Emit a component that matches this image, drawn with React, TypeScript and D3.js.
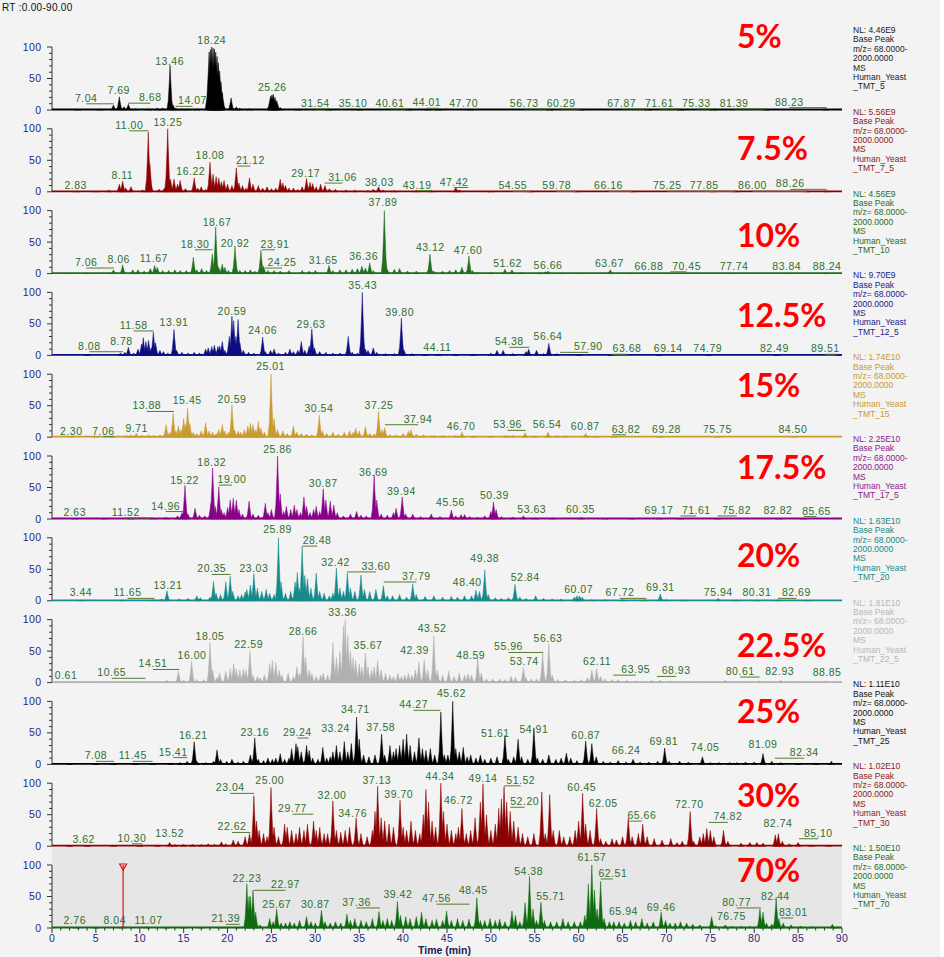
import React, { useRef, useEffect } from "react";
import { select, scaleLinear, line, range } from "d3";

type Peak = [number, number, number?];
type Label = [string, number, number];

// base peak chromatograms: [rt (min), relative abundance (%), half width (min, optional)]
const peaks5: Peak[] = [[3.0,1],[5.5,1],[7.0,8],[7.67,21],[8.2,5],[8.7,9],[9.5,2],[11.0,2],[12.0,3],[12.6,3],[13.45,71],[13.8,8],[14.1,3],[14.8,2],[15.5,2],[16.5,2],[17.9,92,0.45],[18.05,96,0.45],[18.2,100,0.45],[18.35,98,0.5],[18.5,97,0.45],[18.65,92,0.5],[18.8,85,0.45],[18.95,75,0.45],[19.1,62,0.45],[19.25,45,0.4],[19.4,28,0.4],[20.4,19],[21.0,5],[21.4,3],[22.5,2],[24.9,22,0.45],[25.05,24,0.45],[25.2,25,0.5],[25.4,20,0.45],[25.6,15,0.45],[26.0,4],[28,1],[31.5,2],[35.1,1.5],[40.6,1.5],[42.8,2],[44,1.5],[47.7,1.5],[56.7,1],[60.3,1],[67.9,1],[71.6,1],[75.3,1.5],[81.4,1],[88.2,2]];
const peaks7_5: Peak[] = [[2.8,1],[5,1],[6.5,3],[7.67,12],[8.05,17],[8.4,6],[9.0,8],[10.3,3],[10.97,95],[11.15,45],[12.2,4],[12.8,6],[13.18,100],[13.5,20],[13.9,20],[14.3,12],[14.6,18],[15.2,5],[16.2,22],[16.6,6],[17.0,8],[17.5,4],[18.0,47],[18.35,28],[18.7,24],[19.0,22],[19.3,16],[19.6,18],[20.0,12],[20.5,10],[21.0,38],[21.3,14],[21.7,10],[22.1,6],[22.5,22],[22.9,12],[23.5,10],[24.0,6],[24.5,8],[25.0,5],[25.5,6],[26.0,20],[26.3,14],[26.6,10],[27.0,6],[27.5,6],[28.0,4],[28.5,8],[29.0,21],[29.4,15],[29.7,13],[30.1,8],[30.6,12],[31.1,10],[31.6,5],[32.3,4],[33.5,3],[34.5,3],[36.0,2],[36.6,4],[37.2,8],[37.7,3],[39,2],[41.5,2],[43.2,2],[46.0,7],[46.4,3],[50,1],[54.5,1],[59.8,1],[66.2,1],[75.3,1],[77.9,1],[86,1],[88.3,1.5]];
const peaks10: Peak[] = [[2,1],[4,1],[7.0,6],[8.05,14],[9.2,6],[9.8,6],[10.5,4],[11.2,8],[11.7,13],[12.0,10],[12.6,5],[13.3,5],[14.0,6],[14.6,5],[15.3,5],[16.1,26],[16.5,6],[17.05,8],[17.6,5],[18.26,31],[18.65,74],[19.0,10],[19.4,15],[19.7,10],[20.1,5],[20.85,42],[21.4,5],[22.0,5],[22.6,6],[23.1,4],[23.8,37],[24.1,12],[24.6,5],[25.3,5],[26.0,4],[27.0,5],[28.5,5],[29.3,4],[30.0,5],[31.55,13],[32.0,5],[32.8,6],[33.5,6],[34.2,7],[34.8,8],[35.3,12],[35.7,9],[36.2,17],[36.6,5],[37.86,100],[38.2,6],[39.0,7],[39.6,8],[40.5,4],[41.5,4],[43.06,31],[43.5,4],[44.5,4],[45.3,5],[46.0,6],[46.7,10],[47.5,28],[47.9,5],[48.5,2],[50,2],[51.6,7],[52.4,6],[53.5,2],[55.5,2],[56.2,3],[56.5,4],[58,1],[60,1],[63.6,6],[66,1],[70,1],[77.7,1],[84,1],[88.2,1.5]];
const peaks12_5: Peak[] = [[4,1],[7.8,4],[8.3,5],[8.7,13],[9.3,4],[9.8,10],[10.2,18],[10.4,28],[10.7,22],[11.0,24],[11.3,12],[11.55,37],[11.8,20],[12.3,8],[12.7,6],[13.2,4],[13.9,41],[14.2,8],[14.8,5],[15.5,4],[16.2,5],[16.8,4],[17.5,10],[17.8,12],[18.2,14],[18.5,16],[18.9,14],[19.1,15],[19.4,22],[19.7,8],[20.2,30],[20.5,62],[20.7,55],[20.95,30],[21.2,57],[21.4,20],[21.8,8],[22.4,5],[23.0,4],[24.0,29],[24.3,6],[24.9,8],[25.3,10],[25.8,4],[26.6,5],[27.1,10],[27.5,6],[28.0,8],[28.4,22],[28.8,8],[29.3,15],[29.6,42],[29.9,12],[30.5,6],[31.2,5],[32.0,4],[32.8,4],[33.75,30],[34.2,5],[34.8,4],[35.35,100],[35.7,10],[36.0,8],[36.6,12],[37.0,5],[38.0,3],[39.0,3],[39.8,59],[40.1,8],[41.0,3],[42.5,2],[44.0,2],[46,2],[48,2],[50.0,4],[50.7,8],[51.4,8],[52.5,3],[54.0,6],[54.3,10],[55.2,8],[56.0,3],[56.6,19],[57.5,3],[60,1],[63.7,1],[69.1,1],[74.8,1],[82.5,1],[89.5,1]];
const peaks15: Peak[] = [[2.3,2],[5,1],[7.0,1.5],[8.5,3],[9.0,4],[9.6,6],[10.3,3],[11.0,4],[11.6,3],[12.3,4],[12.7,3],[13.0,20],[13.4,8],[13.8,38],[14.1,10],[14.4,18],[14.7,12],[15.0,30],[15.2,20],[15.45,46],[15.7,22],[16.1,8],[16.5,6],[17.0,10],[17.5,23],[17.9,10],[18.3,8],[18.7,6],[19.0,12],[19.4,20],[19.7,10],[20.1,8],[20.5,51],[20.8,12],[21.2,10],[21.5,8],[21.9,12],[22.3,18],[22.6,22],[22.9,20],[23.2,12],[23.5,25],[23.8,15],[24.2,8],[24.95,100],[25.3,30],[25.7,12],[26.3,10],[26.8,6],[27.5,18],[27.9,8],[28.4,6],[29.0,5],[29.6,4],[30.45,35],[30.8,10],[31.3,6],[32.0,8],[32.6,5],[33.3,8],[33.9,10],[34.3,8],[34.6,14],[35.0,10],[35.7,17],[36.2,6],[36.7,5],[37.2,41],[37.6,12],[37.9,15],[38.5,4],[39.2,4],[40.0,6],[40.6,10],[40.9,12],[41.5,5],[42.3,4],[43.5,3],[44.5,3],[46.0,3],[46.7,8],[48,2],[50,2],[51.7,3],[52.5,3],[53.9,7],[55.0,2],[56.5,8],[57.5,3],[58.5,3],[60.8,6],[62,1],[64,1],[69.3,1],[75.8,1],[84.5,1]];
const peaks17_5: Peak[] = [[2.6,1],[6,1],[9,1],[11.5,1.5],[13.0,3],[14.3,5],[14.8,10],[15.15,53],[15.5,8],[16.3,17],[16.8,6],[17.4,5],[18.1,25],[18.3,81],[18.6,20],[19.0,51],[19.3,15],[19.6,10],[20.0,18],[20.3,30],[20.65,33],[21.0,30],[21.3,15],[21.7,8],[22.45,28],[22.9,8],[23.5,6],[24.3,25],[24.6,10],[25.0,15],[25.7,100],[26.0,40],[26.4,12],[26.7,20],[27.2,15],[27.6,22],[27.9,15],[28.3,10],[28.7,35],[29.0,20],[29.4,10],[29.8,15],[30.1,20],[30.5,12],[30.9,48],[31.2,30],[31.7,28],[32.1,22],[32.5,10],[33.2,5],[34.0,8],[34.7,12],[35.2,6],[35.8,5],[36.7,70],[37.0,30],[37.5,8],[38.2,6],[38.9,10],[39.2,17],[39.9,35],[40.3,8],[41.1,8],[42.0,4],[43.2,8],[44.2,4],[45.5,14],[46.0,5],[46.6,7],[47.0,7],[47.6,4],[48.5,3],[49.3,5],[50.0,12],[50.3,27],[50.6,15],[51.2,4],[52.5,3],[53.7,5],[55,2],[57,2],[60.3,3],[63,1],[66,1],[69.2,1.5],[71.6,1],[75.8,1],[82.8,1],[85.6,1]];
const peaks20: Peak[] = [[3.4,1],[8,1],[11.6,2],[12.5,3],[13.1,16],[14.5,3],[15.5,4],[16.5,8],[16.9,5],[18.0,6],[18.4,31],[18.7,12],[19.2,10],[19.8,30],[20.3,39],[20.6,15],[21.2,8],[21.6,10],[22.0,14],[22.2,18],[22.6,25],[23.0,43],[23.4,20],[23.9,15],[24.4,18],[24.8,12],[25.3,10],[25.8,100],[26.1,30],[26.6,12],[27.2,15],[27.7,30],[27.95,45],[28.2,20],[28.5,86],[28.8,40],[29.1,35],[29.5,20],[30.1,44],[30.5,15],[31.0,12],[31.6,8],[32.0,12],[32.4,52],[32.8,20],[33.2,15],[33.65,44],[34.0,20],[34.5,15],[35.2,41],[35.6,18],[36.2,15],[36.9,18],[37.75,24],[38.2,8],[38.8,8],[39.6,10],[40.4,6],[41.1,27],[41.5,10],[42.5,7],[43.5,8],[44.5,6],[45.5,7],[46.2,6],[47.0,8],[47.8,8],[48.3,17],[48.7,15],[49.3,49],[49.7,10],[50.5,5],[51.2,4],[52.0,5],[52.75,26],[53.3,6],[54.0,4],[55.1,8],[56.0,4],[57.0,3],[58.0,3],[59.5,6],[59.8,8],[60.1,8],[60.4,6],[61.5,2],[63,2],[65,2],[67.5,2],[69.3,11],[70,2],[72,1],[75.9,4],[78,1],[80.3,1],[82.7,1.5],[86,1]];
const peaks22_5: Peak[] = [[0.6,2],[3,1],[6,1],[10.6,2],[12.0,2],[13.1,4],[14.4,18],[15.0,4],[15.9,34],[16.5,5],[17.3,5],[18.0,63],[18.3,20],[18.8,8],[19.1,15],[19.8,18],[20.3,22],[20.7,30],[21.0,22],[21.4,20],[21.8,22],[22.1,20],[22.55,50],[22.9,12],[23.4,10],[23.7,8],[24.2,12],[24.8,30],[25.1,35],[25.5,32],[25.9,20],[26.2,12],[26.9,15],[27.5,10],[27.9,25],[28.2,15],[28.6,73],[28.9,40],[29.3,20],[29.6,15],[30.1,10],[30.6,12],[30.9,15],[31.4,12],[32.0,63],[32.4,40],[32.8,50],[33.2,90],[33.4,100],[33.7,75],[34.0,50],[34.3,40],[34.6,35],[35.0,30],[35.3,25],[35.7,47],[36.0,25],[36.4,20],[36.7,25],[37.1,35],[37.5,20],[38.0,15],[38.5,12],[38.9,10],[39.4,15],[39.8,10],[40.2,12],[40.6,15],[41.0,12],[41.4,20],[41.8,32],[42.4,36],[42.8,20],[43.5,74],[43.9,20],[44.5,12],[45.2,18],[45.8,10],[46.4,15],[47.0,12],[47.4,14],[47.8,12],[48.5,39],[48.9,15],[49.5,6],[50.2,6],[51.0,6],[51.6,5],[52.3,10],[52.8,8],[53.7,24],[54.0,8],[54.6,6],[55.2,6],[55.9,47],[56.6,62],[57.0,12],[57.6,5],[58.5,5],[59.5,4],[60.3,5],[61.0,8],[61.5,20],[62.05,22],[62.5,10],[63.0,6],[63.8,5],[64.5,5],[65.5,4],[66.5,3],[68.3,4],[69.3,4],[70.5,3],[72,2],[74,2],[76.7,4],[78,2],[80.6,3],[83.0,4],[85,2],[88.2,3]];
const peaks25: Peak[] = [[2,1],[5,1],[7.0,1.5],[9.5,1.5],[11.5,2],[13.5,2],[14.6,3],[15.4,5],[16.2,36],[16.5,5],[17.5,3],[18.4,5],[18.8,23],[19.2,8],[19.9,5],[20.5,8],[21.2,4],[21.8,5],[22.6,15],[23.1,42],[23.5,8],[24.1,6],[24.6,10],[25.1,8],[25.5,10],[26.0,17],[26.5,8],[27.0,10],[27.3,25],[27.8,33],[28.0,28],[28.4,20],[29.0,30],[29.3,22],[29.7,10],[30.3,8],[30.85,27],[31.3,10],[31.7,12],[32.0,20],[32.4,30],[32.8,20],[33.3,36],[33.7,20],[34.1,33],[34.7,75],[35.0,40],[35.5,15],[36.1,12],[36.8,15],[37.55,48],[37.9,15],[38.5,30],[38.9,20],[39.2,25],[39.6,30],[40.0,40],[40.4,48],[40.8,30],[41.3,20],[41.8,42],[42.2,25],[42.6,22],[43.1,25],[43.6,15],[44.3,83],[44.7,15],[45.1,15],[45.65,100],[46.0,25],[46.4,20],[46.85,27],[47.3,12],[47.7,15],[48.3,10],[48.8,15],[49.3,8],[50.0,10],[50.7,12],[51.6,46],[52.0,8],[52.6,12],[53.1,40],[53.5,12],[54.2,8],[54.9,58],[55.3,10],[55.9,8],[56.6,15],[57.4,8],[58.0,10],[58.6,18],[59.1,10],[59.8,6],[60.8,37],[61.5,33],[62.0,12],[62.8,5],[63.6,4],[64.5,6],[65.4,4],[66.2,8],[67.0,4],[68.0,4],[69.0,5],[69.8,26],[70.3,5],[71.5,5],[72.5,4],[74.1,12],[75.0,3],[76.0,3],[77.2,3],[78.0,3],[79.0,4],[80.0,4],[81.0,17],[82.0,5],[83.0,3],[85,2],[87,2],[88.8,5]];
const peaks30: Peak[] = [[2,1],[4,1],[7,1],[10,1.5],[12.0,2],[13.4,6],[14.0,3],[15.0,3],[16.0,3],[17.0,3],[17.8,4],[18.5,3],[19.3,7],[19.8,4],[20.65,10],[21.2,8],[22.0,15],[22.5,20],[23.0,80],[23.3,40],[23.6,25],[24.1,20],[24.5,15],[24.95,93],[25.3,30],[25.8,15],[26.5,35],[26.8,30],[27.3,25],[27.8,20],[28.2,30],[28.7,25],[29.1,35],[29.8,40],[30.1,25],[30.5,30],[31.0,20],[31.4,20],[32.0,72],[32.4,25],[32.9,22],[33.4,25],[33.9,30],[34.65,45],[35.2,20],[35.9,15],[36.5,25],[36.8,55],[37.1,95],[37.5,45],[37.9,40],[38.4,35],[38.9,30],[39.65,73],[40.0,30],[40.4,25],[40.9,40],[41.4,25],[41.9,20],[42.3,50],[42.6,90],[42.9,70],[43.3,40],[43.7,30],[44.3,100],[44.6,55],[45.0,35],[45.5,25],[46.0,20],[46.3,30],[46.7,60],[47.2,20],[47.7,25],[48.2,45],[48.8,70],[49.1,99],[49.5,50],[50.0,25],[50.5,35],[50.9,60],[51.2,75],[51.5,95],[51.8,70],[52.2,55],[52.6,40],[53.1,30],[53.6,20],[54.2,15],[54.9,20],[55.8,86],[56.2,20],[56.7,82],[57.1,25],[57.8,25],[58.3,15],[59.0,15],[59.6,25],[60.0,40],[60.45,84],[60.8,35],[61.3,25],[62.05,60],[62.5,12],[63.1,8],[63.8,12],[64.3,10],[65.0,15],[65.65,45],[66.1,15],[66.8,20],[67.3,35],[67.8,15],[68.6,12],[69.5,10],[70.5,12],[71.2,6],[71.8,8],[72.7,55],[73.1,8],[73.8,15],[74.2,20],[74.6,28],[75.0,25],[75.4,15],[76.5,25],[77.0,8],[78.5,5],[79.5,6],[80.3,6],[81.0,5],[82.4,18],[82.75,20],[83.2,8],[84.0,4],[85.0,6],[86.5,2],[88.5,2]];
const peaks70: Peak[] = [[2.8,1],[5,1],[8.0,2],[10.8,2],[13,1],[15,1],[17,1],[19.5,1.5],[21.4,2],[22.2,70],[22.45,50],[22.6,50],[22.9,60],[23.2,25],[23.7,5],[24.8,15],[25.2,10],[25.6,30],[26.1,8],[26.6,8],[27.1,10],[27.6,8],[28.2,12],[29.0,18],[29.5,10],[30.0,8],[30.7,28],[31.1,10],[31.7,8],[32.3,10],[32.9,8],[33.6,22],[34.0,12],[34.5,15],[35.2,12],[35.8,10],[36.5,15],[37.25,26],[37.7,12],[38.2,15],[38.7,12],[39.35,42],[39.7,20],[40.3,18],[40.8,15],[41.5,18],[42.1,25],[42.6,15],[43.3,12],[43.8,14],[44.5,12],[44.95,27],[45.5,12],[46.2,15],[46.8,12],[47.5,14],[48.4,48],[48.8,12],[49.3,12],[49.9,15],[50.5,12],[51.0,14],[51.6,10],[52.4,27],[52.8,20],[53.3,10],[53.9,40],[54.4,82],[54.8,30],[55.2,12],[55.7,41],[56.1,12],[56.8,10],[57.5,10],[58.2,15],[58.8,10],[59.5,10],[60.2,10],[60.7,20],[61.1,70],[61.5,100],[61.8,60],[62.1,30],[62.5,74],[62.9,15],[63.5,10],[64.0,10],[64.6,10],[65.2,8],[65.9,12],[66.5,10],[67.2,15],[67.8,8],[68.5,10],[69.4,25],[69.9,12],[70.4,8],[71.0,8],[71.6,10],[72.3,8],[73.0,6],[73.8,5],[75.15,18],[75.6,4],[76.7,5],[77.5,3],[78.5,3],[79.5,3],[80.65,30],[81.0,25],[81.4,8],[82.0,6],[82.5,48],[82.8,15],[83.3,8],[84.2,5],[85.3,3],[86.5,2],[88.9,6],[89.5,2]];

// peak annotations: [rt text, where the text sits (min), text height (%)]
const labels5: Label[] = [["7.04",3.9,13],["7.69",7.6,26],["8.68",11.2,14],["13.46",13.4,71],["14.07",16.0,9],["18.24",18.2,105],["25.26",25.1,30],["31.54",30.0,5],["35.10",34.3,5],["40.61",38.5,5],["44.01",42.7,6],["47.70",46.9,5],["56.73",53.8,5],["60.29",58.0,5],["67.87",64.9,5],["71.61",69.2,5],["75.33",73.4,5],["81.39",77.7,5],["88.23",84.0,7]];
const labels7_5: Label[] = [["2.83",2.7,4],["8.11",8.0,20],["11.00",8.8,100],["13.25",13.2,105],["16.22",15.8,26],["18.08",18.0,52],["21.12",22.6,44],["29.17",28.9,24],["31.06",33.1,17],["38.03",37.3,10],["43.19",41.6,5],["47.42",45.8,10],["54.55",52.5,4],["59.78",57.5,4],["66.16",63.4,4],["75.25",70.1,4],["77.85",74.3,4],["86.00",79.8,4],["88.26",84.1,7]];
const labels10: Label[] = [["7.06",3.9,12],["8.06",7.6,17],["11.67",11.6,19],["18.30",16.3,41],["18.67",18.8,75],["20.92",20.85,43],["23.91",25.4,41],["24.25",26.2,12],["31.65",30.9,15],["36.36",35.5,21],["37.89",37.7,108],["43.12",43.1,36],["47.60",47.4,31],["51.62",51.9,11],["56.66",56.5,8],["63.67",63.5,10],["66.88",68.0,6],["70.45",72.3,6],["77.74",77.7,6],["83.84",83.7,6],["88.24",88.3,6]];
const labels12_5: Label[] = [["8.08",4.25,9],["8.78",7.9,17],["11.58",9.3,42],["13.91",13.9,47],["20.59",20.5,64],["24.06",24.0,34],["29.63",29.5,43],["35.43",35.4,106],["39.80",39.6,63],["44.11",43.9,7],["54.38",52.1,16],["56.64",56.5,24],["57.90",61.1,8],["63.68",65.5,5],["69.14",70.2,5],["74.79",74.7,5],["82.49",82.3,5],["89.51",88.1,5]];
const labels15: Label[] = [["2.30",2.2,4],["7.06",5.85,4],["9.71",9.65,9],["13.88",10.8,44],["15.45",15.4,52],["20.59",20.5,55],["25.01",24.9,106],["30.54",30.4,40],["37.25",37.25,45],["37.94",41.7,23],["46.70",46.6,12],["53.96",51.9,14],["56.54",56.4,14],["60.87",60.75,12],["63.82",65.4,7],["69.28",70.0,7],["75.75",75.8,6],["84.50",84.4,7]];
const labels17_5: Label[] = [["2.63",2.6,5],["11.52",8.4,5],["14.96",12.95,15],["15.22",15.1,55],["18.32",18.2,84],["19.00",20.5,57],["25.86",25.7,105],["30.87",30.9,51],["36.69",36.6,68],["39.94",39.8,38],["45.56",45.4,21],["50.39",50.4,31],["53.63",54.65,10],["60.35",60.2,10],["69.17",69.15,8],["71.61",73.4,8],["75.82",78.0,8],["82.82",82.7,8],["85.65",87.1,7]];
const labels20: Label[] = [["3.44",3.3,7],["11.65",8.6,7],["13.21",13.2,18],["20.35",18.2,45],["23.03",23.0,45],["25.89",25.7,108],["28.48",30.2,90],["32.42",32.3,55],["33.60",36.9,49],["37.79",41.5,33],["48.40",47.3,23],["49.38",49.3,62],["52.84",53.9,31],["60.07",60.0,12],["67.72",64.7,7],["69.31",69.3,15],["75.94",75.9,8],["80.31",80.3,7],["82.69",84.8,7]];
const labels22_5: Label[] = [["0.61",1.6,6],["10.65",6.8,10],["14.51",11.5,24],["16.00",15.95,37],["18.05",18.0,68],["22.59",22.4,55],["28.66",28.6,76],["33.36",33.1,105],["35.67",36.0,53],["42.39",41.3,46],["43.52",43.3,80],["48.59",47.7,37],["55.96",52.0,51],["53.74",53.8,28],["56.63",56.5,65],["62.11",62.1,28],["63.95",66.5,15],["68.93",71.1,13],["80.61",78.4,12],["82.93",82.9,12],["88.85",88.3,11]];
const labels25: Label[] = [["7.08",5.0,8],["11.45",9.2,8],["15.41",13.8,14],["16.21",16.1,40],["23.16",23.1,45],["29.24",27.95,45],["33.24",32.3,52],["34.71",34.55,82],["37.58",37.45,53],["44.27",41.2,89],["45.62",45.5,107],["51.61",50.5,44],["54.91",54.9,50],["60.87",60.8,41],["66.24",65.4,17],["69.81",69.7,31],["74.05",74.4,22],["81.09",81.0,26],["82.34",85.7,13]];
const labels30: Label[] = [["3.62",3.6,5],["10.30",9.1,7],["13.52",13.4,15],["22.62",20.5,25],["23.04",20.3,87],["25.00",24.8,98],["29.77",27.4,54],["32.00",31.9,75],["34.76",34.25,47],["37.13",37.0,99],["39.70",39.5,77],["44.34",44.2,105],["46.72",46.3,67],["49.14",49.1,102],["51.52",53.4,99],["52.20",53.85,65],["60.45",60.35,88],["62.05",62.8,62],["65.66",67.2,43],["72.70",72.6,60],["74.82",77.0,41],["82.74",82.7,30],["85.10",87.3,15]];
const labels70: Label[] = [["2.76",2.6,6],["8.04",7.15,6],["11.07",11.0,6],["21.39",19.8,9],["22.23",22.2,73],["22.97",26.6,63],["25.67",25.6,32],["30.87",30.0,32],["37.36",34.7,35],["39.42",39.4,47],["47.56",43.8,41],["48.45",48.0,54],["54.38",54.3,84],["55.71",56.8,45],["61.57",61.5,107],["62.51",63.9,81],["65.94",65.1,21],["69.46",69.4,27],["76.75",77.4,12],["80.77",78.0,35],["82.44",82.4,44],["83.01",84.45,19]];

const percents = ["5%", "7.5%", "10%", "12.5%", "15%", "17.5%", "20%", "22.5%", "25%", "30%", "70%"];
const nlValues = ["4.46E9", "5.56E9", "4.56E9", "9.70E9", "1.74E10", "2.25E10", "1.63E10", "1.81E10", "1.11E10", "1.02E10", "1.50E10"];
const fileNames = ["_TMT_5", "_TMT_7_5", "_TMT_10", "_TMT_12_5", "_TMT_15", "_TMT_17_5", "_TMT_20", "_TMT_22_5", "_TMT_25", "_TMT_30", "_TMT_70"];
const allPeaks = [peaks5, peaks7_5, peaks10, peaks12_5, peaks15, peaks17_5, peaks20, peaks22_5, peaks25, peaks30, peaks70];
const allLabels = [labels5, labels7_5, labels10, labels12_5, labels15, labels17_5, labels20, labels22_5, labels25, labels30, labels70];
const xTicks = range(0, 91, 5);
const markerRt = 8.1;

// styling / layout
const traceColors = ["#000000", "#8b0000", "#1f6f1f", "#0d0d80", "#c99a2e", "#880088", "#178a8a", "#b0b0b0", "#000000", "#8b0000", "#0e6b0e"];
const infoColors = ["#222222", "#8b1a1a", "#1f6f1f", "#1a1a8a", "#c99a2e", "#8a1a8a", "#178a8a", "#b8b8b8", "#111111", "#8b1a1a", "#1f6f1f"];
const pctLift = [62, 32, 27, 28, 40, 40, 34, 26, 41, 39, 46];
const W = 944, H = 957;
const firstBase = 110, step = 81.8, panelH = 63;
const labelGreen = "#2f6f2f";
const navy = "#28287a";

export default function App() {
  const ref = useRef<SVGSVGElement>(null);

  useEffect(() => {
    document.body.style.margin = "0";
    const svg = select(ref.current);
    svg.selectAll("*").remove();

    const x = scaleLinear().domain([0, 90]).range([52, 842]);
    const path = line<[number, number]>();

    svg.append("rect").attr("width", W).attr("height", H).attr("fill", "#f3f3f3");
    svg.append("rect").attr("x", 940).attr("width", 4).attr("height", H).attr("fill", "#ffffff");

    svg.append("text").attr("x", 2).attr("y", 10.5).attr("font-size", 10).attr("font-family", "Liberation Sans, Arial")
      .attr("letter-spacing", 0.3).attr("fill", "#111").text("RT :0.00-90.00");

    allPeaks.forEach((peaks, i) => {
      const base = firstBase + i * step;
      const y = scaleLinear().domain([0, 100]).range([base, base - panelH]);
      const g = svg.append("g");
      const color = traceColors[i];

      if (i === allPeaks.length - 1) {
        g.append("rect").attr("x", x(0)).attr("y", base - 81).attr("width", x(90) - x(0)).attr("height", 81).attr("fill", "#e6e6e6");
      }

      // y axis
      g.append("line").attr("x1", x(0)).attr("x2", x(0)).attr("y1", y(0)).attr("y2", y(100)).attr("stroke", "#333").attr("stroke-width", 1);
      g.selectAll("line.yt").data(range(0, 101, 10)).join("line")
        .attr("x1", (d) => x(0) - (d % 50 === 0 ? 5 : 3)).attr("x2", x(0))
        .attr("y1", (d) => y(d)).attr("y2", (d) => y(d)).attr("stroke", "#333").attr("stroke-width", 1);
      g.selectAll("text.yl").data([0, 50, 100]).join("text")
        .attr("x", 41.5).attr("y", (d) => y(d) + 3.5).attr("text-anchor", "end")
        .attr("font-size", 10.5).attr("font-family", "Liberation Sans, Arial").attr("letter-spacing", 0.4)
        .attr("fill", navy).text((d) => d);

      // peaks
      g.selectAll("path.pk").data(peaks).join("path")
        .attr("d", ([rt, h, w]) => {
          const hw = w ?? 0.36;
          const pts: [number, number][] = [
            [x(Math.max(0, rt - hw)), y(0)],
            [x(rt - hw * 0.55), y(h * 0.22)],
            [x(rt - hw * 0.18), y(h * 0.7)],
            [x(rt), y(h)],
            [x(rt + hw * 0.18), y(h * 0.7)],
            [x(rt + hw * 0.55), y(h * 0.22)],
            [x(Math.min(90, rt + hw)), y(0)],
          ];
          return path(pts) + "Z";
        })
        .attr("fill", color).attr("stroke", color).attr("stroke-width", 0.5);

      // baseline
      g.append("line").attr("x1", x(0)).attr("x2", x(90)).attr("y1", y(0) - 0.5).attr("y2", y(0) - 0.5)
        .attr("stroke", color).attr("stroke-width", 1.8);

      // peak labels
      const labels = allLabels[i];
      g.selectAll("line.ld").data(labels.filter(([t, at]) => Math.abs(+t - at) > 1.2)).join("line")
        .attr("x1", ([, at]) => x(at)).attr("x2", ([t]) => x(+t))
        .attr("y1", ([, , lv]) => y(lv) + 2).attr("y2", ([, , lv]) => y(lv) + 2)
        .attr("stroke", "#557a33").attr("stroke-width", 1);
      g.selectAll("text.lb").data(labels).join("text")
        .attr("x", ([, at]) => x(at)).attr("y", ([, , lv]) => y(lv))
        .attr("text-anchor", "middle").attr("font-size", 10.5).attr("font-family", "Liberation Sans, Arial")
        .attr("letter-spacing", 0.5).attr("fill", labelGreen).text(([t]) => t);

      // big percentage
      g.append("text").attr("x", 737).attr("y", base - pctLift[i])
        .attr("font-size", 32).attr("font-weight", 700).attr("font-family", "Lato, Liberation Sans")
        .attr("fill", "#ff0000").text(percents[i]);

      // scan info
      const info = ["NL: " + nlValues[i], "Base Peak", "m/z= 68.0000-", "2000.0000", "MS", "Human_Yeast", fileNames[i]];
      g.selectAll("text.inf").data(info).join("text")
        .attr("x", 853).attr("y", (_, k) => base - 77 + k * 9.4)
        .attr("font-size", 8.5).attr("font-family", "Liberation Sans, Arial")
        .attr("fill", infoColors[i]).text((d) => d);

      if (i === allPeaks.length - 1) {
        // x axis
        g.selectAll("line.xt").data(range(0, 91, 1)).join("line")
          .attr("x1", (d) => x(d)).attr("x2", (d) => x(d))
          .attr("y1", y(0)).attr("y2", (d) => y(0) + (d % 5 === 0 ? 5 : 2.5))
          .attr("stroke", "#333").attr("stroke-width", 1);
        g.selectAll("text.xl").data(xTicks).join("text")
          .attr("x", (d) => x(d)).attr("y", y(0) + 14).attr("text-anchor", "middle")
          .attr("font-size", 10.5).attr("font-family", "Liberation Sans, Arial").attr("letter-spacing", 0.4)
          .attr("fill", navy).text((d) => d);
        g.append("text").attr("x", 418).attr("y", y(0) + 26).attr("font-size", 10.5).attr("font-weight", 700)
          .attr("font-family", "Liberation Sans, Arial").attr("fill", "#1a1a50").text("Time (min)");

        // red scan marker
        g.append("line").attr("x1", x(markerRt)).attr("x2", x(markerRt)).attr("y1", y(0)).attr("y2", y(100))
          .attr("stroke", "#e01010").attr("stroke-width", 1.2);
        g.append("path")
          .attr("d", path([[x(markerRt) - 3.5, y(100) - 1], [x(markerRt) + 3.5, y(100) - 1], [x(markerRt), y(100) + 5]]) + "Z")
          .attr("fill", "none").attr("stroke", "#e01010").attr("stroke-width", 1.2);
      }
    });
  }, []);

  return <svg ref={ref} width={W} height={H} style={{ display: "block" }} />;
}
